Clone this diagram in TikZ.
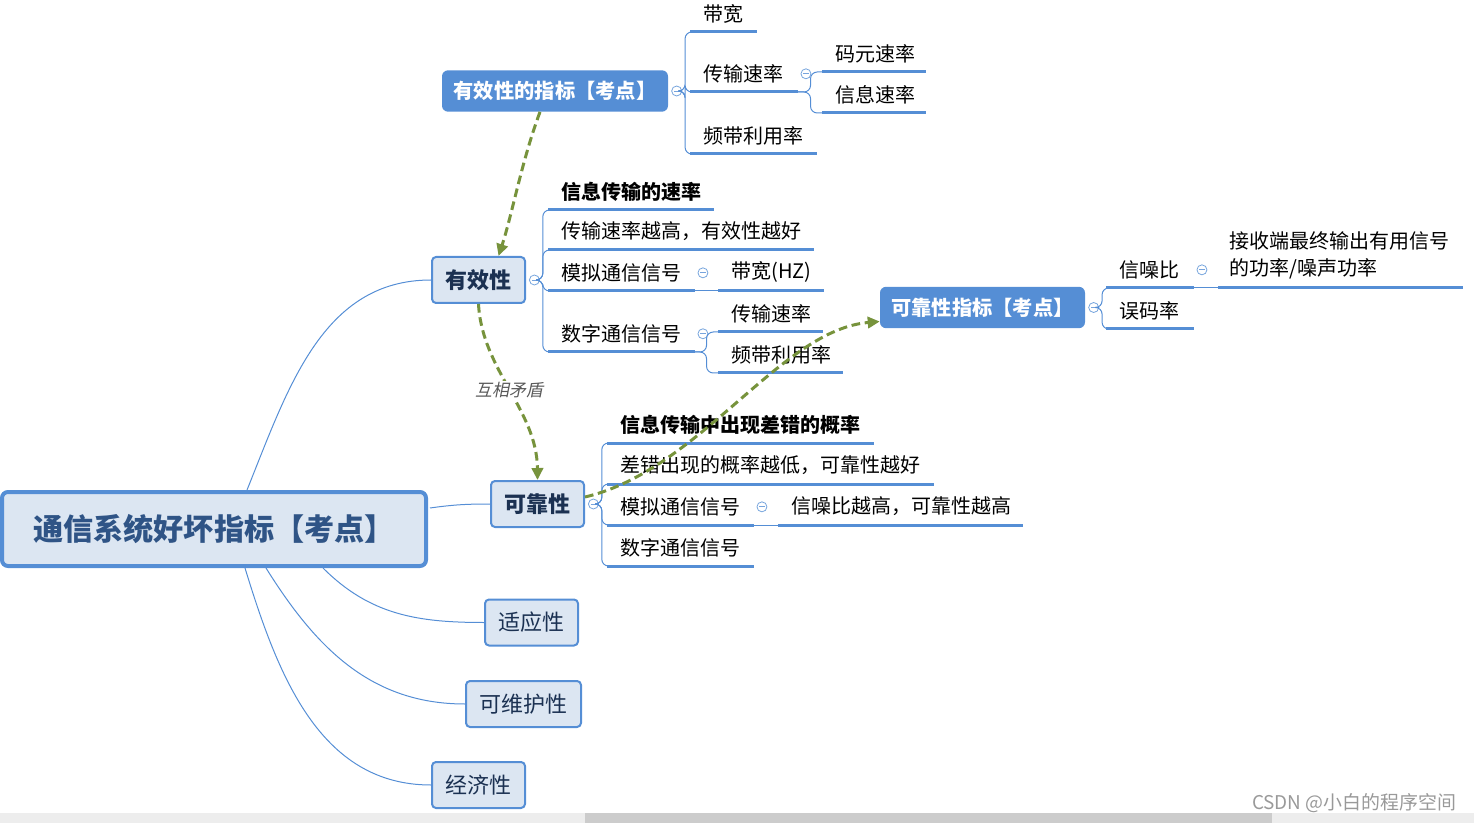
\documentclass[tikz,border=0pt]{standalone}
\usepackage{fontspec}
\setmainfont{Noto Sans CJK SC}
\newfontfamily\slantfont{Noto Sans CJK SC}[FakeSlant=0.2]
\usepackage{tikz}
\usetikzlibrary{
  arrows.meta, positioning,
  backgrounds, calc
}
\usepackage{xcolor}
\definecolor{mmblue}{HTML}{558ED5}
\definecolor{mmfill}{HTML}{DCE6F2}
\definecolor{mmnavy}{HTML}{1B3152}
\definecolor{mmroot}{HTML}{2F5486}
\definecolor{mmgreen}{HTML}{77933C}
\tikzset{
  rootbox/.style={
    rectangle, rounded corners=4.5pt,
    draw=mmblue, fill=mmfill, line width=3pt, text=mmroot,
    minimum width=318pt, minimum height=55.5pt,
    font=\bfseries\fontsize{22.6}{27}\selectfont
  },
  subbox/.style={
    rectangle, rounded corners=3pt,
    draw=mmblue, fill=mmfill, line width=1.5pt, text=mmnavy,
    minimum width=69.75pt, minimum height=34.5pt, inner sep=0pt,
    font=\fontsize{16.5}{20}\selectfont
  },
  idxbox/.style={
    rectangle, rounded corners=4.5pt,
    fill=mmblue, text=white, minimum height=31pt, inner sep=0pt,
    font=\bfseries\fontsize{15.2}{18}\selectfont
  },
  leaf/.style={
    anchor=south west, inner xsep=9.75pt, inner ysep=6.5pt,
    align=left, font=\fontsize{15}{20}\selectfont,
    append after command={
      (\tikzlastnode.south west) edge[ubar] (\tikzlastnode.south east)}
  },
  ubar/.style={draw=mmblue, line width=2.25pt},
  minus/.style={
    circle, draw=mmblue!80, fill=white, line width=0.6pt,
    minimum size=7.5pt, inner sep=0pt,
    path picture={\draw[mmblue!80, line width=0.6pt]
      ([xshift=-2pt]path picture bounding box.center) --
      ([xshift=2pt]path picture bounding box.center);}
  },
  branch/.style={draw=mmblue, line width=0.75pt, rounded corners=5pt},
  trunk/.style={draw=mmblue, line width=0.75pt},
  link/.style={
    draw=mmgreen, line width=2.25pt, dash pattern=on 6.5pt off 3.5pt,
    -{Triangle[length=9pt, width=8.5pt]}
  }
}

\begin{document}
\begin{tikzpicture}[x=0.75pt, y=-0.75pt]
\useasboundingbox (0,0) rectangle (1474,823);

% ── Central topic and main branches ─────────────────────────
\node[rootbox] (root) at (214,529) {通信系统好坏指标【考点】};

\node[subbox, font=\bfseries\fontsize{16.5}{20}\selectfont]
  (eff) at (478.5,280) {有效性};
\node[subbox, font=\bfseries\fontsize{16.5}{20}\selectfont]
  (rel) at (537.5,504) {可靠性};
\node[subbox] (adapt) at (531.5,622.5) {适应性};
\node[subbox, minimum width=86.25pt] (maint) at (523.5,704) {可维护性};
\node[subbox] (econ) at (478.5,785) {经济性};

\begin{scope}[on background layer]
  \draw[trunk] ($(root.north)+(33,0)$) to[out=68, in=180] (eff.west);
  \draw[trunk] ($(root.east)+(2,-21)$) to[out=8, in=180] (rel.west);
  \draw[trunk] ($(root.south)+(109,0)$) to[out=-45, in=180] (adapt.west);
  \draw[trunk] ($(root.south)+(52,0)$) to[out=-58, in=180] (maint.west);
  \draw[trunk] ($(root.south)+(31,0)$) to[out=-73, in=180] (econ.west);
\end{scope}

% ── Effectiveness indicators ────────────────────────────────
\node[idxbox, minimum width=169.5pt] (effidx) at (555,91)
  {有效性的指标【考点】};
\node[minus, right=2.25pt of effidx] (effidxc) {};

\node[leaf, text width=30pt]    (bw)    at (690,32)  {带宽};
\node[leaf, text width=60.75pt] (rate)  at (690,92)  {传输速率};
\node[leaf, text width=75pt]    (fband) at (690,154) {频带利用率};
\node[minus, right=2.25pt of rate] (ratec) {};
\node[leaf, text width=57.75pt] (sym)   at (822,72)  {码元速率};
\node[leaf, text width=57.75pt] (info)  at (822,113) {信息速率};

\draw[branch] (effidxc.east) -- ++(3,0) |- (bw.south west);
\draw[branch] (effidxc.east) -- ++(3,0) |- (rate.south west);
\draw[branch] (effidxc.east) -- ++(3,0) |- (fband.south west);
\draw[branch] (rate.south east) -- ++(13,0) |- (sym.south west);
\draw[branch] (rate.south east) -- ++(13,0) |- (info.south west);

% ── Effectiveness details ───────────────────────────────────
\node[minus, right=2.25pt of eff] (effc) {};

\node[leaf, text width=104.25pt, font=\bfseries\fontsize{15}{20}\selectfont]
  (effdef) at (548,210) {信息传输的速率};
\node[leaf, text width=179.25pt] (effgood) at (548,250)
  {传输速率越高，有效性越好};
\node[leaf, text width=90pt] (effana) at (548,291) {模拟通信信号};
\node[leaf, text width=90pt] (effdig) at (548,352) {数字通信信号};
\node[minus, right=2.25pt of effana] (effanac) {};
\node[minus, right=2.25pt of effdig] (effdigc) {};
\node[leaf, text width=59.25pt] (effbw)   at (718,291) {带宽(HZ)};
\node[leaf, text width=58.5pt]  (effrate) at (718,332) {传输速率};
\node[leaf, text width=73.5pt]  (effband) at (718,373) {频带利用率};

\draw[branch] (effc.east) -- ++(3,0) |- (effdef.south west);
\draw[branch] (effc.east) -- ++(3,0) |- (effgood.south west);
\draw[branch] (effc.east) -- ++(3,0) |- (effana.south west);
\draw[branch] (effc.east) -- ++(3,0) |- (effdig.south west);
\draw[branch] (effana.south east) -- (effbw.south west);
\draw[branch] (effdig.south east) -- ++(12,0) |- (effrate.south west);
\draw[branch] (effdig.south east) -- ++(12,0) |- (effband.south west);

% ── Reliability details ─────────────────────────────────────
\node[minus, right=2.25pt of rel] (relc) {};

\node[leaf, text width=180pt, font=\bfseries\fontsize{15}{20}\selectfont]
  (reldef) at (607,443) {信息传输中出现差错的概率};
\node[leaf, text width=225pt] (relgood) at (607,484)
  {差错出现的概率越低，可靠性越好};
\node[leaf, text width=90pt] (relana) at (607,525) {模拟通信信号};
\node[leaf, text width=90pt] (reldig) at (607,566) {数字通信信号};
\node[minus, right=2.25pt of relana] (relanac) {};
\node[leaf, text width=163.5pt] (relsnr) at (778,525)
  {信噪比越高，可靠性越高};

\draw[branch] (relc.east) -- ++(3,0) |- (reldef.south west);
\draw[branch] (relc.east) -- ++(3,0) |- (relgood.south west);
\draw[branch] (relc.east) -- ++(3,0) |- (relana.south west);
\draw[branch] (relc.east) -- ++(3,0) |- (reldig.south west);
\draw[branch] (relana.south east) -- (relsnr.south west);

% ── Reliability indicators ──────────────────────────────────
\node[idxbox, minimum width=153.75pt] (relidx) at (982.5,307.5)
  {可靠性指标【考点】};
\node[minus, right=2.25pt of relidx] (relidxc) {};

\node[leaf, text width=45.75pt] (snr) at (1106,288) {信噪比};
\node[leaf, text width=45.75pt] (ber) at (1106,329) {误码率};
\node[minus, right=2.25pt of snr] (snrc) {};
\node[leaf, inner xsep=8.25pt, text width=166.5pt] (snrdef) at (1218,288)
  {接收端最终输出有用信号\\的功率/噪声功率};

\draw[branch] (relidxc.east) -- ++(3,0) |- (snr.south west);
\draw[branch] (relidxc.east) -- ++(3,0) |- (ber.south west);
\draw[branch] (snr.south east) -- (snrdef.south west);

% ── Dashed relations ────────────────────────────────────────
\draw[link] ($(effidx.south)+(-15,0)$)
  .. controls (522,160) and (512,215) .. ($(eff.north)+(20,0)$);
\draw[link] (eff.south)
  .. controls (482,370) and (537,410) .. (rel.north)
  node[midway, fill=white, inner sep=1pt, text=black!65,
       font=\slantfont\fontsize{12.75}{15}\selectfont] (clash) {互相矛盾};
\draw[link] ($(rel.east)+(0,-7)$)
  .. controls (700,470) and (780,330) .. ($(relidx.west)+(0,14)$);

% ── Window footer ───────────────────────────────────────────
\fill[black!7] (0,813) rectangle (1474,823);
\fill[black!20] (585,813) rectangle (1272,823);
\node[anchor=east, text=black!40, font=\fontsize{14.2}{16}\selectfont]
  (mark) at (1461,803) {CSDN @小白的程序空间};

\end{tikzpicture}
\end{document}
